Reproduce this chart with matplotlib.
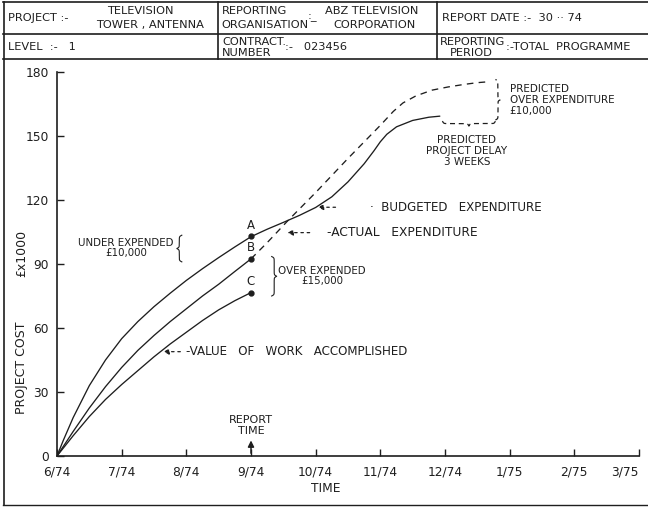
import numpy as np
import matplotlib
matplotlib.use("Agg")
import matplotlib.pyplot as plt
from matplotlib.transforms import IdentityTransform
from matplotlib.lines import Line2D

# ---------------- data (months after 6/74, cost in £1000) ----------------
month_labels = ["6/74", "7/74", "8/74", "9/74", "10/74", "11/74", "12/74", "1/75", "2/75", "3/75"]
y_ticks = [0, 30, 60, 90, 120, 150, 180]

budget_m = [0, 0.1, 0.25, 0.5, 0.75, 1.0, 1.25, 1.5, 1.75, 2.0, 2.25, 2.5, 2.75, 3.0,
            3.25, 3.5, 3.75, 4.0, 4.25, 4.5, 4.75, 4.9, 5.0, 5.1, 5.25, 5.5, 5.75, 5.92]
budget_v = [0, 7.5, 18, 33, 45, 55, 63, 70, 76.3, 82.3, 87.8, 93, 98, 102.8,
            106.3, 109.5, 112.8, 116.5, 121.5, 128.5, 137, 143, 147.3, 150.8, 154.3, 157.3, 158.8, 159.3]

actual_m = [0, 0.25, 0.5, 0.75, 1.0, 1.25, 1.5, 1.75, 2.0, 2.25, 2.5, 2.75, 3.0]
actual_v = [0, 11.5, 22.5, 32.5, 41.5, 49.5, 56.5, 63, 69, 75, 80.5, 86.5, 92.4]

forecast_m = [3.0, 3.25, 3.56, 4.0, 4.5, 5.0, 5.2, 5.35, 5.55, 5.8, 6.05, 6.3, 6.5, 6.7]
forecast_v = [92.4, 100, 110, 123.5, 139.5, 155, 161.5, 165.5, 168.8, 171.5, 173, 174.2, 175, 175.5]

value_m = [0, 0.25, 0.5, 0.75, 1.0, 1.25, 1.5, 1.75, 2.0, 2.25, 2.5, 2.75, 3.0]
value_v = [0, 9.5, 18.5, 26.5, 33.5, 40, 46.5, 52.5, 58, 63.5, 68.5, 72.8, 76.6]

report_m = 3.0
points_lbl = ["A", "B", "C"]
points_v = [103, 92.4, 76.6]

# ---------------- figure ----------------
W, H = 648, 507
fig = plt.figure(figsize=(W / 100, H / 100), dpi=100)
fig.patch.set_facecolor("white")
INK = "#1e1e1e"
plt.rcParams["font.family"] = ["DejaVu Sans"]


def fx(x):
    return x / W


def fy(y):
    return 1 - y / H


ax = fig.add_axes([fx(57), 51 / H, 582 / W, 384 / H])
ax.set_xlim(0, 9)
ax.set_ylim(0, 180)
for s in ["top", "right"]:
    ax.spines[s].set_visible(False)
for s in ["left", "bottom"]:
    ax.spines[s].set_linewidth(1.2)
    ax.spines[s].set_color(INK)
ax.set_xticks(range(len(month_labels)))
ax.set_xticklabels(month_labels)
ax.set_yticks(y_ticks)
ax.tick_params(direction="in", length=5, width=1, colors=INK, labelsize=8.8)
ax.tick_params(axis="x", pad=6.5)
ax.tick_params(axis="y", pad=6)
ax.get_xticklabels()[-1].set_horizontalalignment("right")
ax.get_xticklabels()[-1].set_x(9.13)

lw = 0.95
ax.plot(budget_m, budget_v, color=INK, lw=lw, solid_capstyle="round")
ax.plot(actual_m, actual_v, color=INK, lw=lw)
ax.plot(forecast_m, forecast_v, color=INK, lw=lw, linestyle=(0, (5, 4)))
ax.plot(value_m, value_v, color=INK, lw=lw)

ax.plot([report_m] * 3, points_v, "o", color=INK, ms=3.5, clip_on=False)
for lbl, v in zip(points_lbl, points_v):
    ax.text(report_m, v + 2.2, lbl, ha="center", va="bottom", fontsize=8.5, color=INK)

# report time arrow
ax.annotate("", xy=(report_m, 8.6), xytext=(report_m, 0),
            arrowprops=dict(arrowstyle="-|>", color=INK, lw=1.1, mutation_scale=9))
ax.text(report_m, 9.5, "REPORT\nTIME", ha="center", va="bottom", fontsize=8,
        color=INK, linespacing=1.05)

# label arrows
aprops = dict(arrowstyle="-|>", color=INK, lw=0.9, linestyle=(0, (2, 3)), mutation_scale=8)
ax.annotate("", xy=(3.99, 116.6), xytext=(4.35, 116.6), arrowprops=aprops)
ax.text(4.84, 116.3, "·  BUDGETED   EXPENDITURE", ha="left", va="center", fontsize=8.6, color=INK)
ax.annotate("", xy=(3.52, 104.7), xytext=(3.95, 104.7), arrowprops=aprops)
ax.text(4.17, 104.7, "-ACTUAL   EXPENDITURE", ha="left", va="center", fontsize=8.8, color=INK)
ax.annotate("", xy=(1.6, 48.9), xytext=(1.95, 48.9), arrowprops=aprops)
ax.text(2.0, 48.9, "-VALUE   OF   WORK   ACCOMPLISHED", ha="left", va="center", fontsize=8.6, color=INK)

ax.text(1.07, 97.5, "UNDER EXPENDED\n£10,000", ha="center", va="center", fontsize=7.4,
        color=INK, linespacing=1.0)
ax.text(4.1, 84.5, "OVER EXPENDED\n£15,000", ha="center", va="center", fontsize=7.4,
        color=INK, linespacing=1.0)
ax.text(7.0, 166.9, "PREDICTED\nOVER EXPENDITURE\n£10,000", ha="left", va="center",
        fontsize=7.5, color=INK, linespacing=1.1, multialignment="left")
ax.text(6.34, 143.0, "PREDICTED\nPROJECT DELAY\n3 WEEKS", ha="center", va="center",
        fontsize=7.5, color=INK, linespacing=1.1)

fig.canvas.draw()


def brace(p0, p1, w, k=1.6, **kw):
    p0 = np.array(ax.transData.transform(p0))
    p1 = np.array(ax.transData.transform(p1))
    L = np.linalg.norm(p1 - p0)
    u = (p1 - p0) / L
    nrm = np.array([u[1], -u[0]])
    t = np.linspace(0, L / 2, 80)
    h = 1 / (1 + np.exp(-k * t)) + 1 / (1 + np.exp(-k * (t - L / 2))) - 0.5
    h = h - h[0]
    h = h / h[-1]
    tt = np.concatenate([t, L - t[::-1]])
    hh = np.concatenate([h, h[::-1]])
    pts = p0[None, :] + tt[:, None] * u[None, :] + w * hh[:, None] * nrm[None, :]
    line = Line2D(pts[:, 0], pts[:, 1], transform=IdentityTransform(), color=INK, **kw)
    fig.add_artist(line)


brace((1.93, 103.5), (1.93, 91.0), 5, lw=0.8)          # under expended
brace((3.32, 75.0), (3.32, 93.5), 5, lw=0.8)           # over expended
brace((6.78, 157.5), (6.78, 176.5), 5, lw=0.9, linestyle=(0, (4, 3)))  # predicted over expenditure
brace((5.96, 157.0), (6.78, 157.0), 5, lw=0.9, linestyle=(0, (4, 3)))  # predicted delay

# axis titles
fig.text(fx(326), fy(488), "TIME", ha="center", va="center", fontsize=8.8, color=INK)
fig.text(fx(22), fy(253), "£x1000", ha="center", va="center", rotation=90, fontsize=9, color=INK)
fig.text(fx(22), fy(368), "PROJECT COST", ha="center", va="center", rotation=90, fontsize=9, color=INK)

# ---------------- header form ----------------
def hline(y, x0, x1, lw=1.2):
    fig.add_artist(Line2D([fx(x0), fx(x1)], [fy(y), fy(y)], transform=fig.transFigure, color=INK, lw=lw))


def vline(x, y0, y1, lw=1.2):
    fig.add_artist(Line2D([fx(x), fx(x)], [fy(y0), fy(y1)], transform=fig.transFigure, color=INK, lw=lw))


hline(2, 3, 648)
hline(34, 3, 648)
hline(58.5, 3, 648)
hline(505, 3, 648, lw=1.0)
vline(4, 2, 505)
vline(218, 2, 58.5)
vline(437, 2, 58.5)

hs = 8.2


def ht(x, y, s, ha="left"):
    fig.text(fx(x), fy(y), s, ha=ha, va="center", fontsize=hs, color=INK)


ht(8, 18, "PROJECT :-")
ht(140, 11, "TELEVISION", "center")
ht(150, 25, "TOWER , ANTENNA", "center")
ht(222, 11, "REPORTING")
ht(221, 25, "ORGANISATION")
ht(308, 17, ":_")
ht(372, 11, "ABZ TELEVISION", "center")
ht(374, 25, "CORPORATION", "center")
ht(442, 18, "REPORT DATE :-  30 ·· 74")
ht(8, 47, "LEVEL  :-   1")
ht(222, 42, "CONTRACT.")
ht(222, 53, "NUMBER")
ht(285, 47, ":-   023456")
ht(440, 42, "REPORTING")
ht(450, 53, "PERIOD")
ht(506, 47, ":-TOTAL  PROGRAMME")

fig.savefig("out.png", dpi=100, facecolor="white")
